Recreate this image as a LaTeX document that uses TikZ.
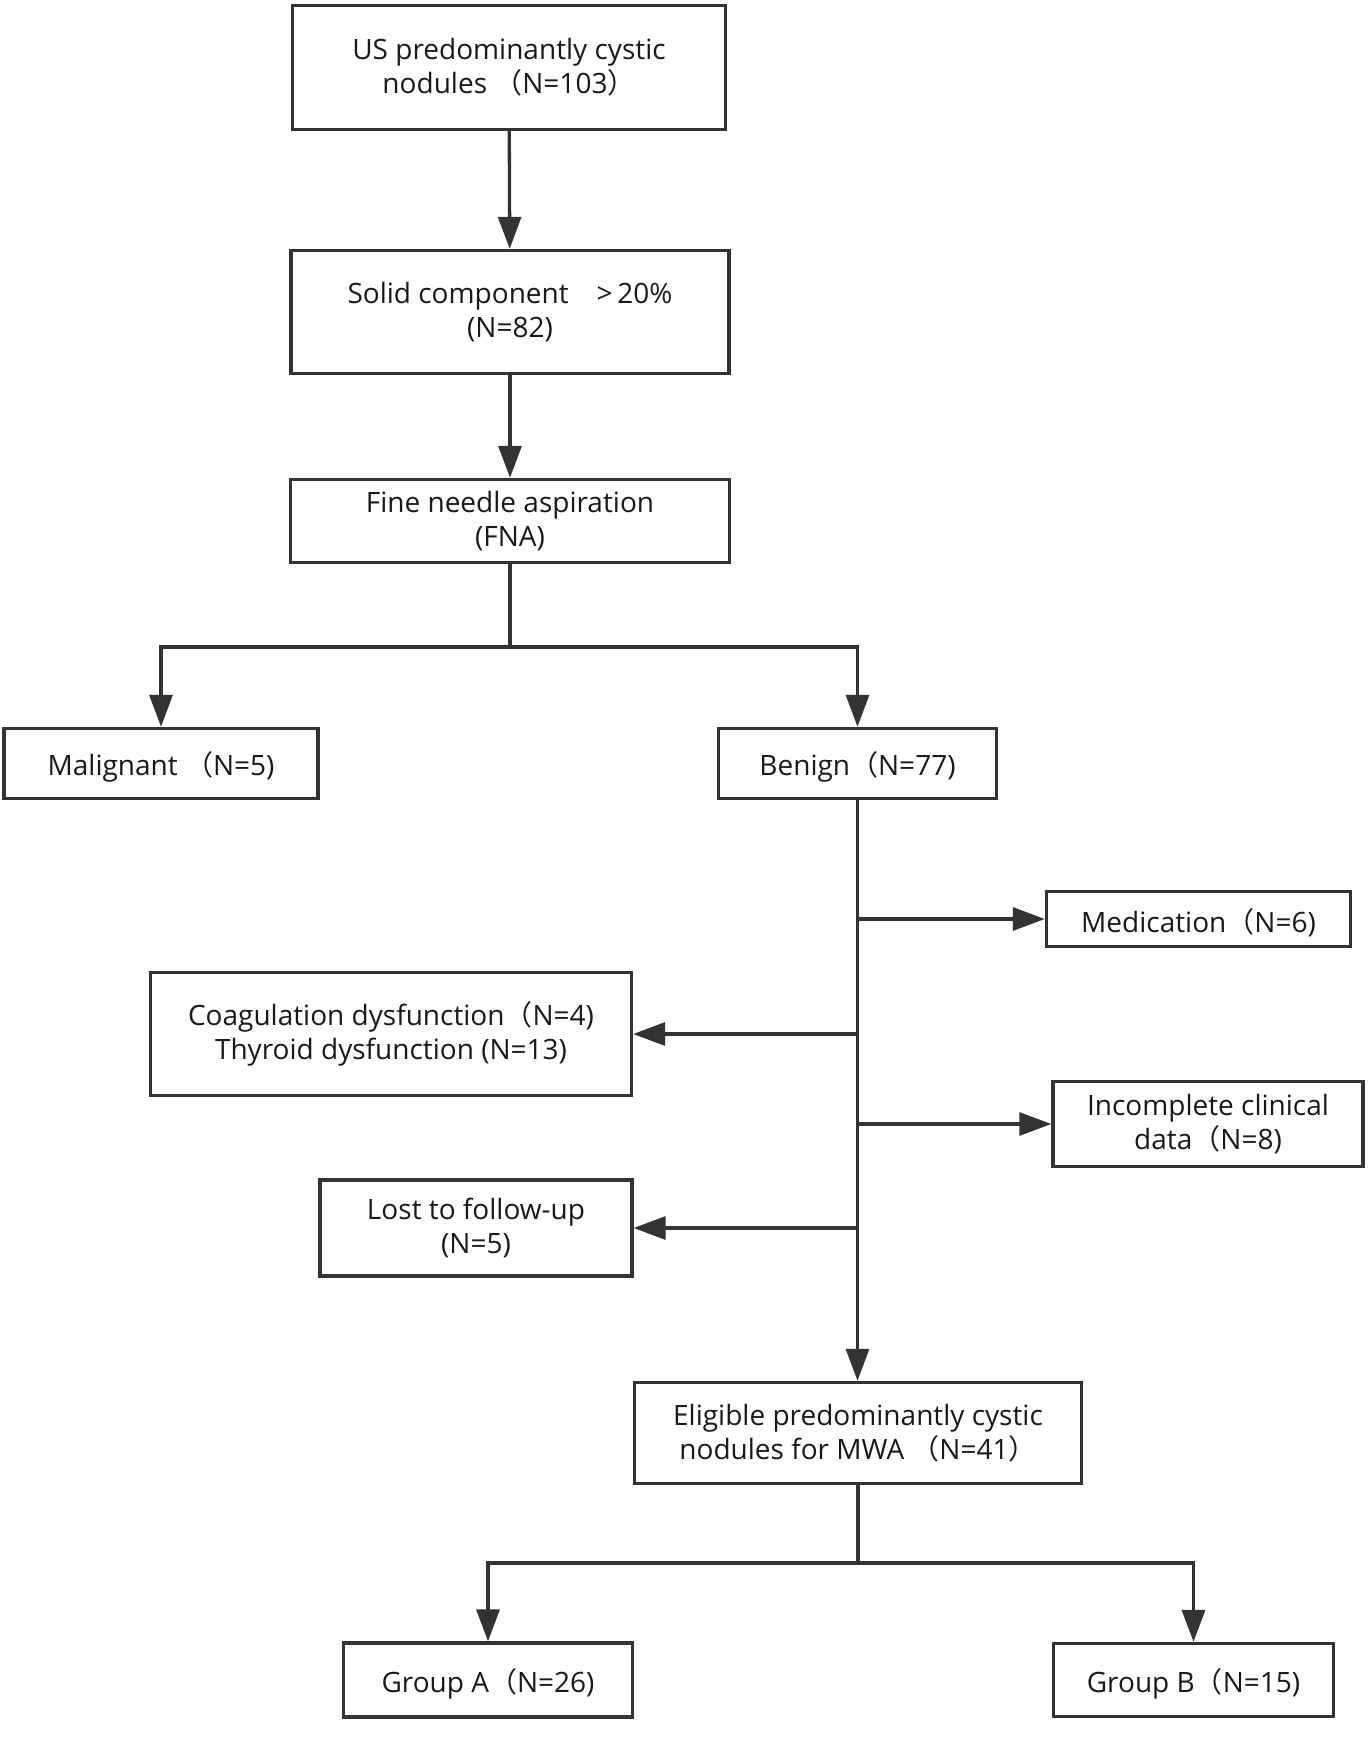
\documentclass[tikz,border=0pt]{standalone}
\usepackage{fontspec}
\setmainfont{Open Sans}
\newfontfamily\cjk{Noto Sans CJK SC}
\usetikzlibrary{arrows.meta}
\definecolor{gris}{HTML}{333333}
\newcommand{\lpar}{{\cjk （}}
\newcommand{\rpar}{{\cjk ）}}
\tikzset{
  caja/.style={draw=gris, line width=1.7pt, align=center, inner sep=0pt,
    text=black!90, font=\fontsize{14}{17}\selectfont,
    execute at begin node={\rule{0pt}{15.5pt}}},
  linea/.style={draw=gris, line width=1.65pt},
  flecha/.style={linea, -{Triangle[length=16pt,width=11.5pt]}}
}
\begin{document}
\begin{tikzpicture}[x=0.5pt, y=-0.5pt]
  \useasboundingbox (0,0) rectangle (1371,1739);
  % Cajas principales
  \node[caja, minimum width=216.5pt, minimum height=62pt] (inicio) at (509,67.5) {US predominantly cystic\\nodules \lpar N=103\rpar};
  \node[caja, minimum width=219pt, minimum height=61.5pt] (solido) at (510,312) {Solid component\quad>\,20\%\\(N=82)};
  \node[caja, minimum width=219.5pt, minimum height=41.5pt] (fna) at (510,521) {Fine needle aspiration\\(FNA)};
  \node[caja, minimum width=157pt, minimum height=35pt] (maligno) at (161,763.5) {Malignant \lpar N=5)};
  \node[caja, minimum width=139pt, minimum height=35pt] (benigno) at (857.5,763.5) {Benign\lpar N=77)};
  % Exclusiones
  \node[caja, minimum width=152pt, minimum height=27.5pt] (medic) at (1198.5,919) {Medication\lpar N=6)};
  \node[caja, minimum width=240.5pt, minimum height=61.5pt] (coag) at (391,1034) {Coagulation dysfunction\lpar N=4)\\Thyroid dysfunction (N=13)};
  \node[caja, minimum width=155pt, minimum height=42.5pt] (incomp) at (1208,1124) {Incomplete clinical\\data\lpar N=8)};
  \node[caja, minimum width=156pt, minimum height=48pt] (perdido) at (476,1228) {Lost to follow-up\\(N=5)};
  % Final
  \node[caja, minimum width=223.5pt, minimum height=50.5pt] (eleg) at (858,1433) {Eligible predominantly cystic\\nodules for MWA \lpar N=41\rpar};
  \node[caja, minimum width=144.5pt, minimum height=37pt] (grupoA) at (488,1680) {Group A\lpar N=26)};
  \node[caja, minimum width=140pt, minimum height=36.5pt] (grupoB) at (1193.5,1680) {Group B\lpar N=15)};
  % Conectores
  \draw[flecha] (inicio) -- (solido);
  \draw[flecha] (solido) -- (fna);
  \coordinate (rama1) at (510,647);
  \draw[linea] (fna.south) -- (rama1);
  \draw[flecha] (rama1) -| (maligno.north);
  \draw[flecha] (rama1) -| (benigno.north);
  \draw[flecha] (benigno.south) -- (benigno.south |- eleg.north);
  \draw[flecha] (benigno.south |- medic.west) -- (medic.west);
  \draw[flecha] (benigno.south |- coag.east) -- (coag.east);
  \draw[flecha] (benigno.south |- incomp.west) -- (incomp.west);
  \draw[flecha] (benigno.south |- perdido.east) -- (perdido.east);
  \coordinate (rama2) at (858,1563);
  \draw[linea] (eleg.south) -- (rama2);
  \draw[flecha] (rama2) -| (grupoA.north);
  \draw[flecha] (rama2) -| (grupoB.north);
\end{tikzpicture}
\end{document}
